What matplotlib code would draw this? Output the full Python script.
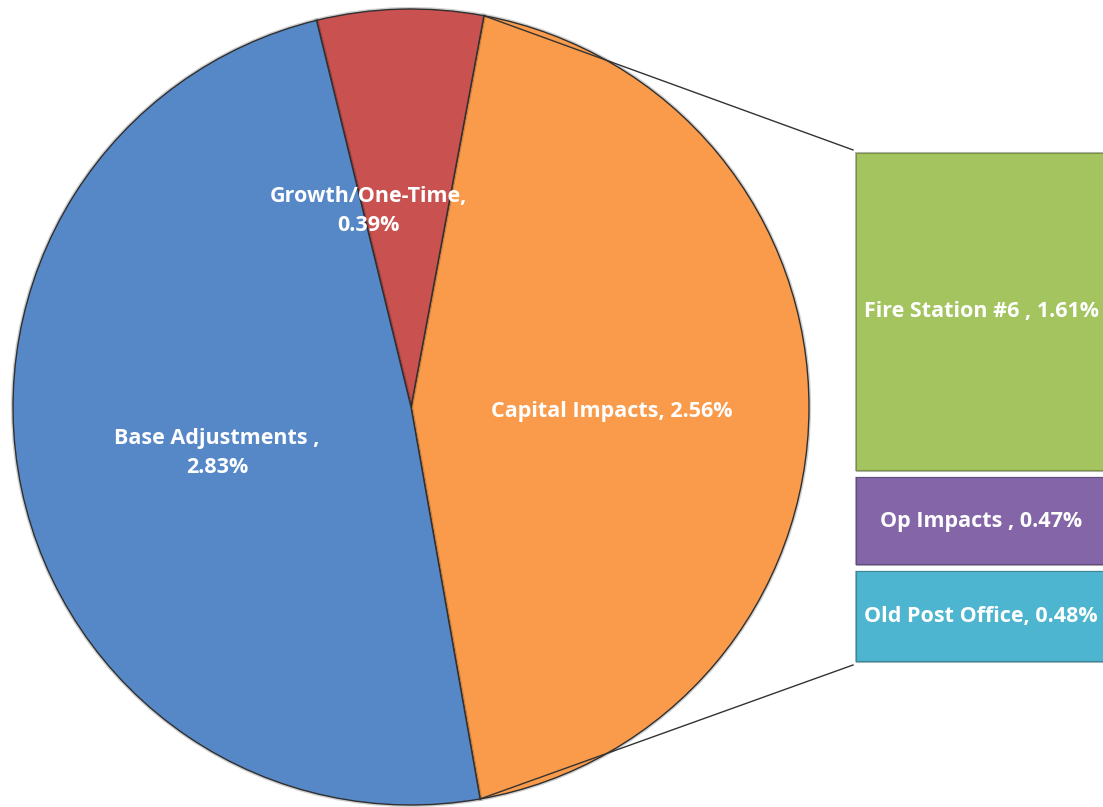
import numpy as np
import matplotlib.pyplot as plt
from matplotlib import patheffects as pe

# pie data
pie_labels = ['Capital Impacts', 'Growth/One-Time', 'Base Adjustments']
pie_values = [2.56, 0.39, 2.83]
pie_texts = ['Capital Impacts, 2.56%', 'Growth/One-Time,\n0.39%', 'Base Adjustments ,\n2.83%']
pie_colors = ['#F99B4B', '#C9514F', '#5688C8']

# breakdown of Capital Impacts (bottom to top)
bar_labels = ['Old Post Office', 'Op Impacts', 'Fire Station #6']
bar_values = [0.48, 0.47, 1.61]
bar_texts = ['Old Post Office, 0.48%', 'Op Impacts , 0.47%', 'Fire Station #6 , 1.61%']
bar_colors = ['#4DB5CF', '#8466A8', '#A3C45F']

W, H = 1103, 807
fig = plt.figure(figsize=(W / 100, H / 100), dpi=100)
ax = fig.add_axes([0, 0, 1, 1])

cx, cy, r = 411, 400, 398
start = -80
wedges, _ = ax.pie(pie_values, colors=pie_colors, startangle=start, center=(cx, cy),
                   radius=r, counterclock=True, frame=True,
                   wedgeprops=dict(edgecolor='#303030', linewidth=1.0))
ax.set_xlim(0, W)
ax.set_ylim(0, H)
ax.axis('off')
for w in wedges:
    w.set_path_effects([pe.Stroke(linewidth=3, foreground='#00000030'), pe.Normal()])

font = dict(color='white', fontweight='bold', fontsize=15.5, family='Open Sans',
            ha='center', va='center', linespacing=1.45)
pie_label_pos = [(612, 396), (368, 596), (217, 354)]
for (x, y), t in zip(pie_label_pos, pie_texts):
    ax.text(x, y, t, **font)

# stacked bar
scale = 201.2
bar_left, bar_w, bar_bottom = 853, 260, 142
bottom = bar_bottom
for v, c, t in zip(bar_values, bar_colors, bar_texts):
    h = v * scale
    ax.bar(bar_left + bar_w / 2, h, width=bar_w, bottom=bottom, color=c,
           edgecolor='white', linewidth=4)
    ax.bar(bar_left + bar_w / 2, h - 6, width=bar_w - 6, bottom=bottom + 3, color='none',
           edgecolor='#00000040', linewidth=1.5)
    ax.text(bar_left + 128, bottom + h / 2, t, **font)
    bottom += h

# connector lines from the Capital Impacts wedge edges to the bar
a1 = np.deg2rad(start)
a2 = np.deg2rad(start + pie_values[0] / sum(pie_values) * 360)
ax.plot([cx + r * np.cos(a2), bar_left], [cy + r * np.sin(a2), bottom], color='#333333', lw=1)
ax.plot([cx + r * np.cos(a1), bar_left], [cy + r * np.sin(a1), bar_bottom], color='#333333', lw=1)

fig.savefig('out.png', dpi=100)
